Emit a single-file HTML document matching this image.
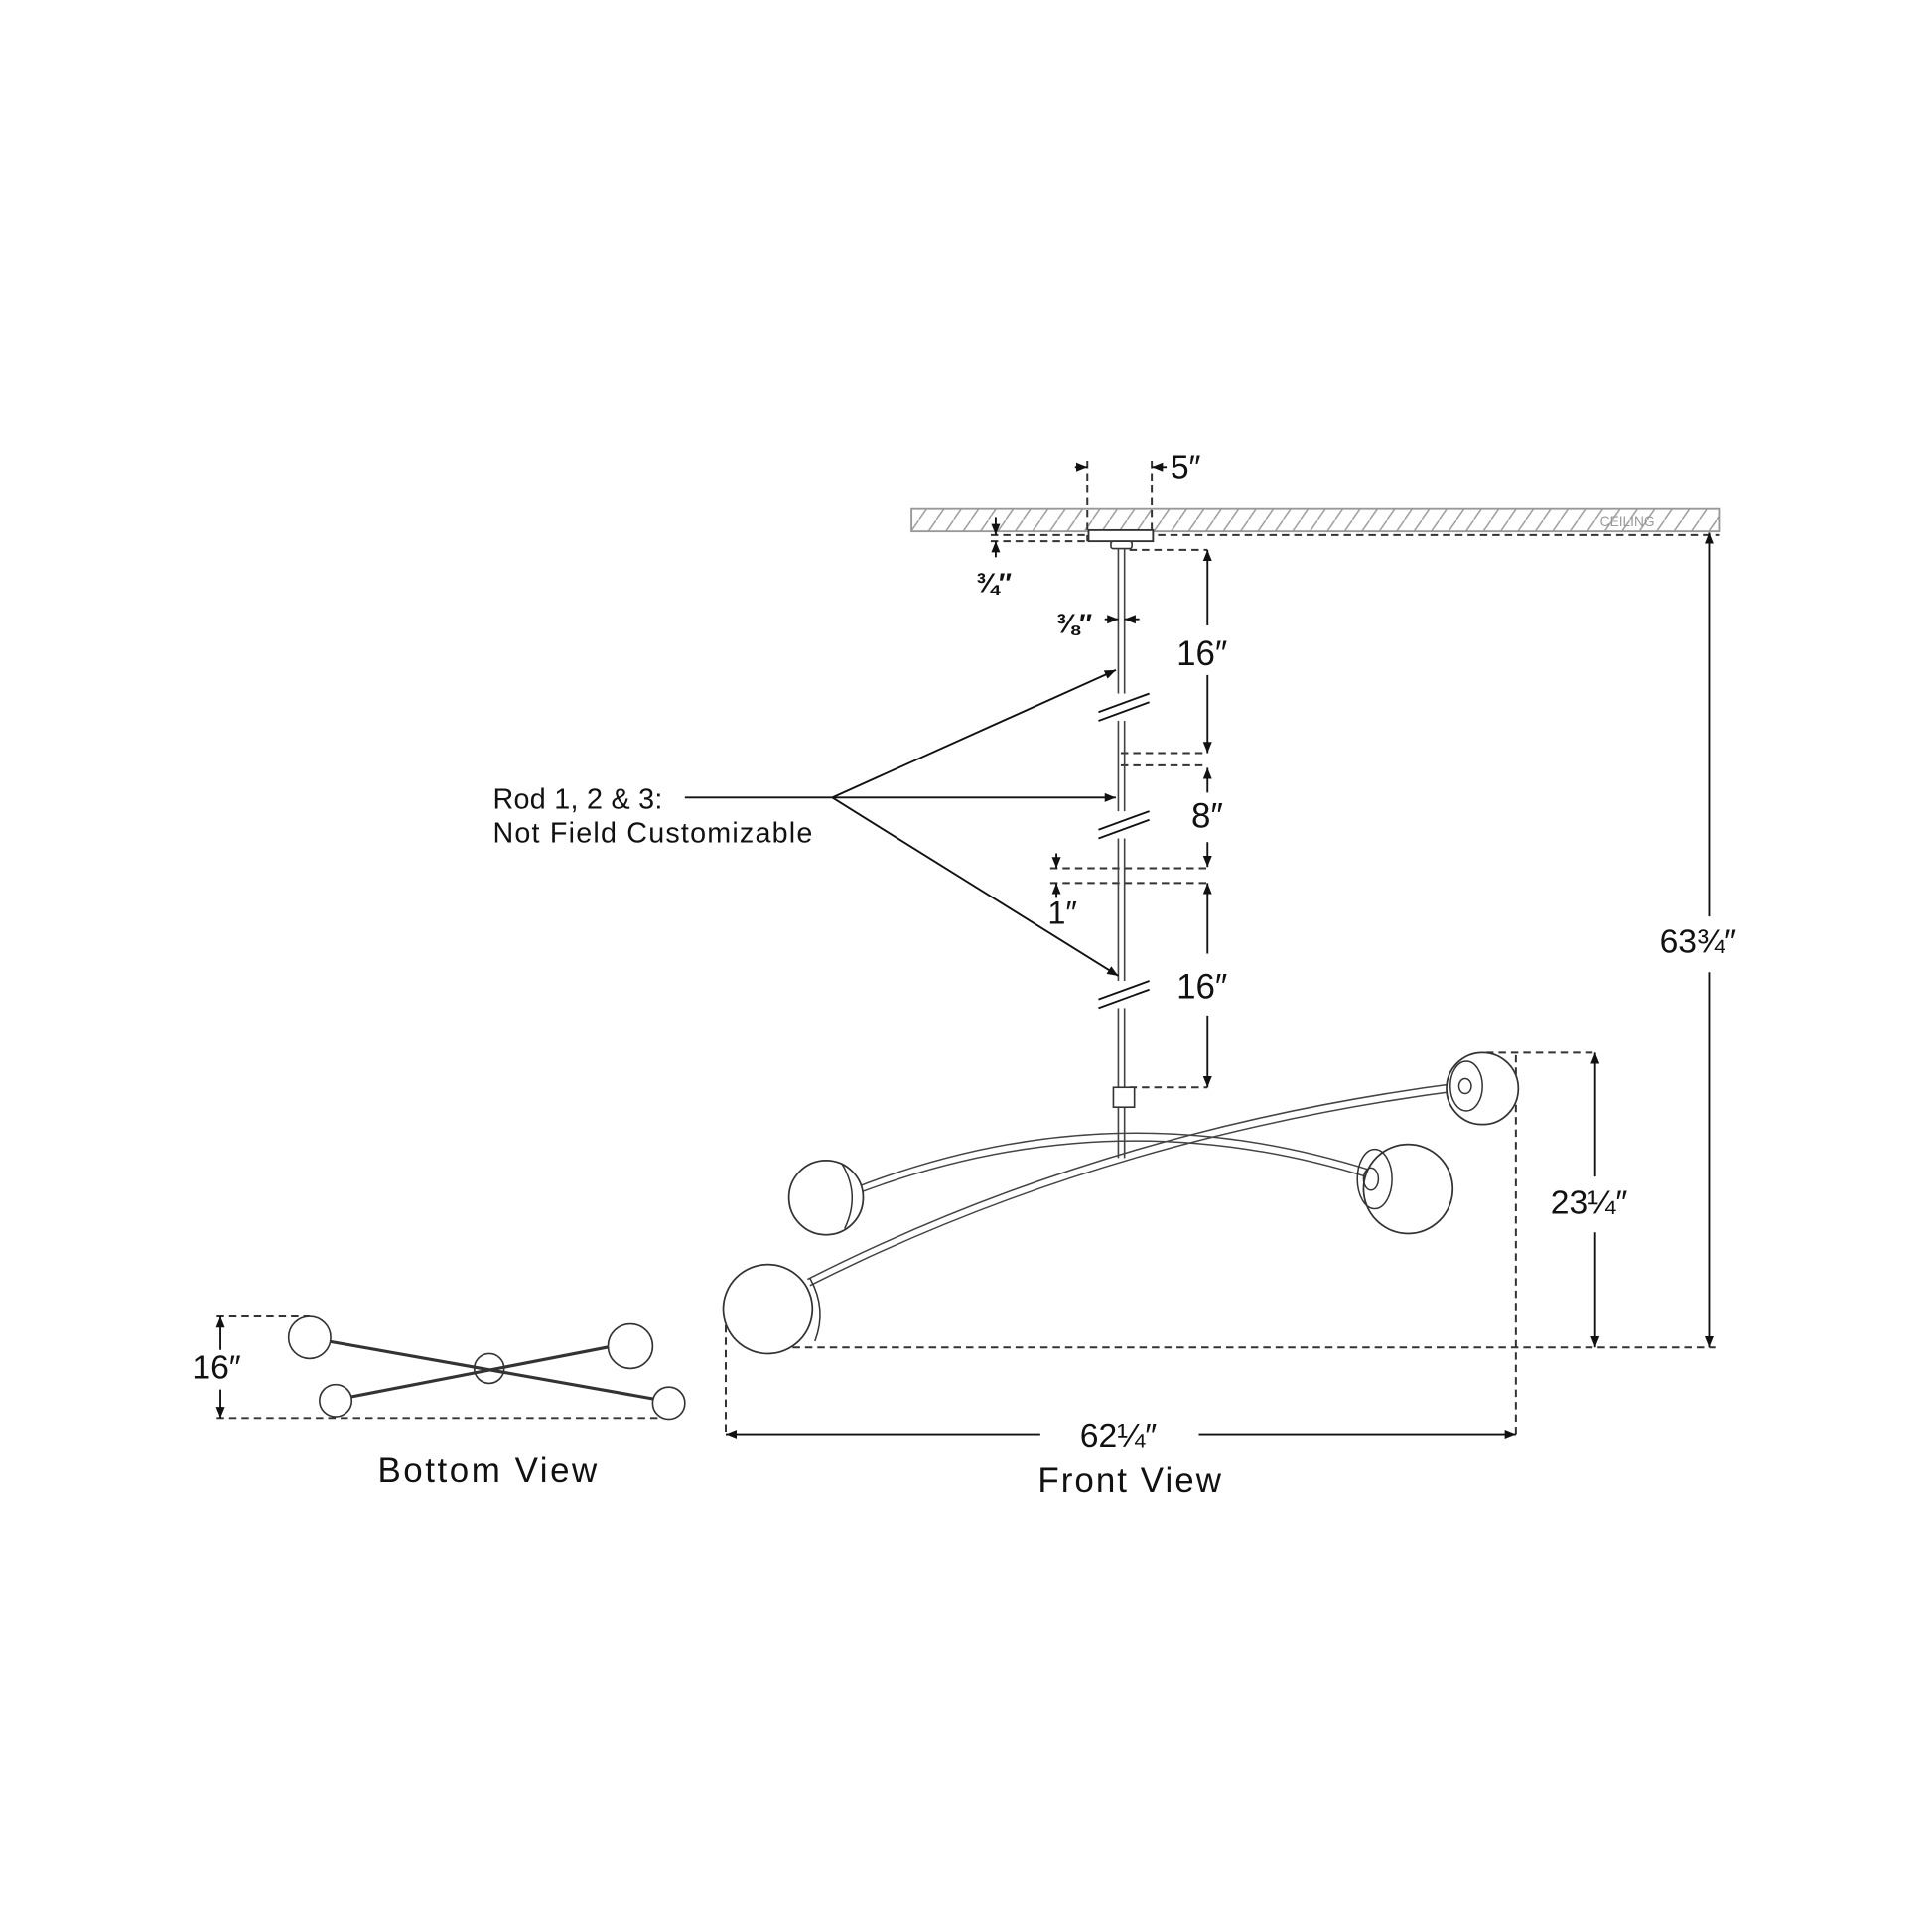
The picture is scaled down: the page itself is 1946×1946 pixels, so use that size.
<!DOCTYPE html>
<html><head><meta charset="utf-8"><style>
html,body{margin:0;padding:0;background:#fff;}
svg{display:block;}
text{font-family:"Liberation Sans",sans-serif;fill:#111;}
</style></head><body>
<svg width="1946" height="1946" viewBox="0 0 1560 1560" xmlns="http://www.w3.org/2000/svg">
<defs>
<marker id="a" viewBox="0 0 10 10" refX="10" refY="5" markerWidth="9" markerHeight="9" orient="auto-start-reverse" markerUnits="userSpaceOnUse"><path d="M0,1 L10,5 L0,9 z" fill="#111"/></marker>
<pattern id="h" width="14" height="20" patternUnits="userSpaceOnUse"><line x1="0" y1="20" x2="14" y2="0" stroke="#999" stroke-width="1.2"/></pattern>
</defs>
<rect x="736" y="411" width="652" height="18" fill="url(#h)" stroke="#999" stroke-width="1.5"/>
<text x="1292" y="425" font-size="11" style="fill:#999">CEILING</text>
<g stroke="#333" stroke-width="1.6" stroke-dasharray="6,4" fill="none">
<line x1="800" y1="432" x2="879" y2="432"/>
<line x1="935" y1="432" x2="1388" y2="432"/>
<line x1="800" y1="437" x2="879" y2="437"/>
<line x1="878" y1="372" x2="878" y2="437"/>
<line x1="930" y1="372" x2="930" y2="437"/>
<line x1="912" y1="444" x2="975" y2="444"/>
<line x1="905" y1="608" x2="975" y2="608"/>
<line x1="905" y1="618" x2="975" y2="618"/>
<line x1="848" y1="701" x2="975" y2="701"/>
<line x1="848" y1="713" x2="975" y2="713"/>
<line x1="912" y1="878" x2="975" y2="878"/>
<line x1="1200" y1="850" x2="1290" y2="850"/>
<line x1="620" y1="1088" x2="1385" y2="1088"/>
<line x1="586" y1="1060" x2="586" y2="1160"/>
<line x1="1224" y1="852" x2="1224" y2="1160"/>
<line x1="175" y1="1063" x2="250" y2="1063"/>
<line x1="175" y1="1145" x2="540" y2="1145"/>
</g>
<rect x="879" y="428" width="52" height="9" fill="#fff" stroke="#333" stroke-width="1.5"/>
<rect x="897" y="437" width="17" height="6" rx="2" fill="#fff" stroke="#333" stroke-width="1.3"/>
<line x1="903" y1="443" x2="903" y2="935" stroke="#444" stroke-width="1.3"/>
<line x1="908" y1="443" x2="908" y2="935" stroke="#444" stroke-width="1.3"/>
<rect x="899" y="878" width="17" height="16" fill="#fff" stroke="#333" stroke-width="1.3"/>
<g stroke="#111" stroke-width="1.5">
<rect x="895" y="560" width="22" height="22" fill="#fff" stroke="none"/>
<line x1="887" y1="575" x2="928" y2="560"/><line x1="887" y1="582" x2="928" y2="567"/>
<rect x="895" y="655" width="22" height="22" fill="#fff" stroke="none"/>
<line x1="887" y1="670" x2="928" y2="655"/><line x1="887" y1="677" x2="928" y2="662"/>
<rect x="895" y="792" width="22" height="22" fill="#fff" stroke="none"/>
<line x1="887" y1="807" x2="928" y2="792"/><line x1="887" y1="814" x2="928" y2="799"/>
</g>
<g stroke="#111" stroke-width="1.5" fill="none">
<line x1="868" y1="377" x2="878" y2="377" marker-end="url(#a)"/>
<line x1="942" y1="377" x2="930" y2="377" marker-end="url(#a)"/>
<line x1="804" y1="418" x2="804" y2="432" marker-end="url(#a)"/>
<line x1="804" y1="450" x2="804" y2="437" marker-end="url(#a)"/>
<line x1="892" y1="500" x2="903" y2="500" marker-end="url(#a)"/>
<line x1="920" y1="500" x2="908" y2="500" marker-end="url(#a)"/>
<line x1="975" y1="505" x2="975" y2="444" marker-end="url(#a)"/>
<line x1="975" y1="545" x2="975" y2="608" marker-end="url(#a)"/>
<line x1="975" y1="640" x2="975" y2="620" marker-end="url(#a)"/>
<line x1="975" y1="680" x2="975" y2="700" marker-end="url(#a)"/>
<line x1="853" y1="689" x2="853" y2="701" marker-end="url(#a)"/>
<line x1="853" y1="725" x2="853" y2="713" marker-end="url(#a)"/>
<line x1="975" y1="770" x2="975" y2="713" marker-end="url(#a)"/>
<line x1="975" y1="820" x2="975" y2="878" marker-end="url(#a)"/>
<line x1="1380" y1="740" x2="1380" y2="430" marker-end="url(#a)"/>
<line x1="1380" y1="785" x2="1380" y2="1088" marker-end="url(#a)"/>
<line x1="1288" y1="950" x2="1288" y2="850" marker-end="url(#a)"/>
<line x1="1288" y1="995" x2="1288" y2="1088" marker-end="url(#a)"/>
<line x1="840" y1="1158" x2="586" y2="1158" marker-end="url(#a)"/>
<line x1="968" y1="1158" x2="1224" y2="1158" marker-end="url(#a)"/>
<line x1="178" y1="1090" x2="178" y2="1063" marker-end="url(#a)"/>
<line x1="178" y1="1122" x2="178" y2="1145" marker-end="url(#a)"/>
<line x1="553" y1="644" x2="672" y2="644"/>
<line x1="672" y1="644" x2="901" y2="541" marker-end="url(#a)"/>
<line x1="672" y1="644" x2="901" y2="644" marker-end="url(#a)"/>
<line x1="672" y1="644" x2="903" y2="788" marker-end="url(#a)"/>
</g>
<g fill="none" stroke="#444" stroke-width="1.2">
<path d="M688,960 Q896,878 1107,945"/><path d="M689,965 Q896,885 1106,951"/>
<path d="M652,1033 Q892,911 1182,874"/><path d="M654,1038 Q894,917 1183,880"/>
</g>
<g fill="#fff" stroke="#333" stroke-width="1.4">
<circle cx="667" cy="967" r="30"/>
<circle cx="1137" cy="960" r="36"/>
<circle cx="1197" cy="879" r="29"/>
<circle cx="620" cy="1057" r="36"/>
</g>
<g fill="none" stroke="#333" stroke-width="1.2">
<path d="M680,940 Q695,965 682,992"/>
<path d="M654,1032 Q668,1057 658,1083"/>
<ellipse cx="1110" cy="952" rx="14" ry="24"/><ellipse cx="1107" cy="952" rx="6" ry="9"/>
<ellipse cx="1184" cy="877" rx="13" ry="20"/><ellipse cx="1183" cy="877" rx="5" ry="6"/>
</g>
<g stroke="#333" stroke-width="1.3" fill="#fff">
<line x1="265" y1="1083" x2="530" y2="1130" stroke-width="2.5"/>
<line x1="283" y1="1128" x2="495" y2="1087" stroke-width="2.5"/>
<circle cx="250" cy="1080" r="17"/>
<circle cx="509" cy="1087" r="18"/>
<circle cx="271" cy="1131" r="13"/>
<circle cx="540" cy="1133" r="13"/>
<circle cx="395" cy="1105" r="12" fill="none"/>
</g>
<text x="945" y="386" font-size="27">5″</text>
<text x="788" y="478" font-size="22" font-weight="bold">¾″</text>
<text x="853" y="511" font-size="22" font-weight="bold">⅜″</text>
<text x="950" y="537" font-size="28">16″</text>
<text x="962" y="668" font-size="28">8″</text>
<text x="846" y="746" font-size="26">1″</text>
<text x="950" y="806" font-size="28">16″</text>
<text x="398" y="653" font-size="23" textLength="137">Rod 1, 2 &amp; 3:</text>
<text x="398" y="680" font-size="23" textLength="258">Not Field Customizable</text>
<text x="1340" y="769" font-size="27">63¾″</text>
<text x="1252" y="980" font-size="27">23¼″</text>
<text x="872" y="1168" font-size="27">62¼″</text>
<text x="838" y="1205" font-size="28" textLength="148">Front View</text>
<text x="155" y="1113" font-size="27">16″</text>
<text x="305" y="1197" font-size="28" textLength="177">Bottom View</text>
</svg>
</body></html>
